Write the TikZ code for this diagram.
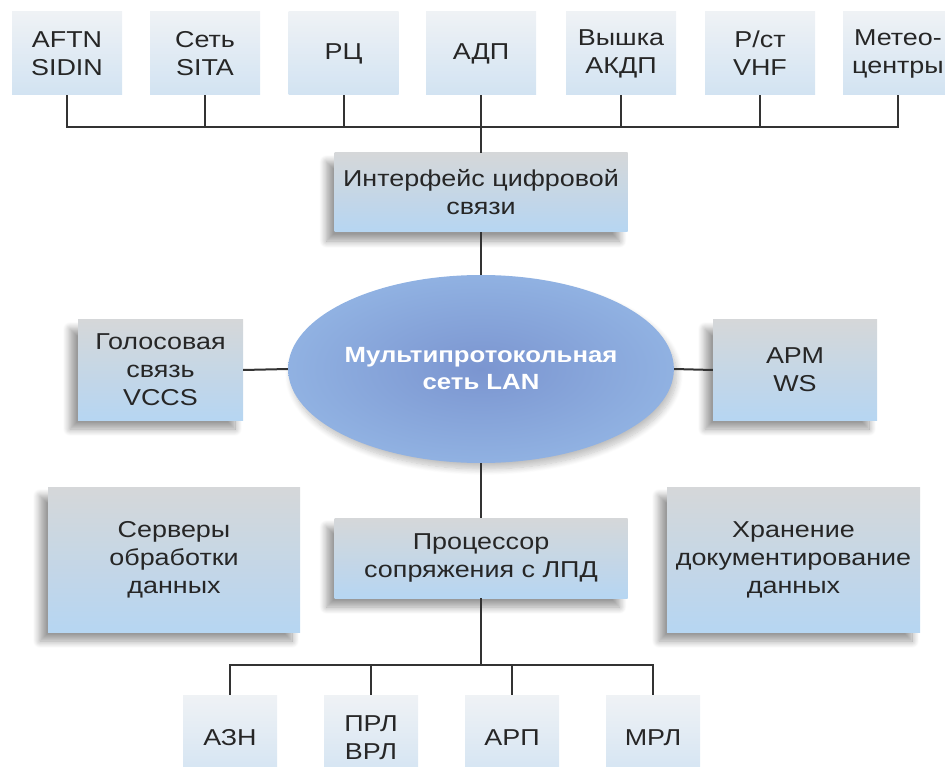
\documentclass[tikz,border=0pt]{standalone}
\usepackage{fontspec}
\setmainfont{Liberation Sans}[FakeStretch=1.17]
\usetikzlibrary{shapes.geometric,shadows.blur}

\definecolor{lineC}{HTML}{333333}
\definecolor{txtC}{HTML}{262626}
\definecolor{boxTop}{HTML}{D5D7D9}
\definecolor{boxBot}{HTML}{B6D6F2}
\definecolor{lightTop}{HTML}{EFF2F5}
\definecolor{lightBot}{HTML}{D2E3F2}
\definecolor{lanIn}{HTML}{7B95D0}
\definecolor{lanMid}{HTML}{93B5E4}
\definecolor{lanOut}{HTML}{A9CEF0}

\pgfdeclareradialshading{lanshade}{\pgfpointorigin}{%
  color(0bp)=(lanIn); color(28bp)=(lanMid); color(50bp)=(lanOut)}

\tikzset{
  boxbase/.style={rectangle, align=center, inner sep=0pt, text=txtC,
    font=\fontsize{23}{28}\selectfont},
  lightbox/.style={boxbase, top color=lightTop, bottom color=lightBot},
  shadebox/.style={boxbase, top color=boxTop, bottom color=boxBot,
    blur shadow={shadow xshift=-8pt, shadow yshift=-9pt,
      shadow blur radius=7pt, shadow blur steps=12, shadow opacity=40}},
  link/.style={draw=lineC, line width=2pt},
}

\begin{document}
\begin{tikzpicture}[x=1pt, y=-1pt]
\useasboundingbox (0,0) rectangle (945,767);

% top row of external systems
\begin{scope}[every node/.style={lightbox, minimum width=110pt, minimum height=83pt}]
  \node (t1) at (67,53.5)  {AFTN\\SIDIN};
  \node (t2) at (205,53.5) {Сеть\\SITA};
  \node (t3) at (343.5,53.5) {РЦ};
  \node (t4) at (481,53.5) {АДП};
  \node (t5) at (621,53.5) {Вышка\\АКДП};
  \node (t6) at (760,53.5) {Р/ст\\VHF};
  \node (t7) at (898,53.5) {Метео-\\центры};
\end{scope}

% digital communication interface
\node[shadebox, minimum width=293pt, minimum height=79pt] (iface) at (481,192.5)
  {Интерфейс цифровой\\связи};

% central network
\node[ellipse, minimum width=374pt, minimum height=188pt, inner sep=0pt,
  shading=lanshade, text=white,
  blur shadow={shadow xshift=3pt, shadow yshift=-6pt, shadow blur radius=6pt,
    shadow blur steps=10, shadow opacity=25},
  font=\bfseries\fontsize{22}{27}\selectfont, align=center] (lan) at (481,369)
  {Мультипротокольная\\сеть LAN};

% side units
\node[shadebox, minimum width=165pt, minimum height=100pt] (voice) at (160.5,370)
  {Голосовая\\связь\\VCCS};
\node[shadebox, minimum width=164pt, minimum height=100pt] (arm) at (795,370)
  {АРМ\\WS};
\node[shadebox, minimum width=252pt, minimum height=145pt] (srv) at (174,559.5)
  {Серверы\\обработки\\данных};
\node[shadebox, minimum width=253pt, minimum height=145pt] (store) at (793.5,559.5)
  {Хранение\\документирование\\данных};
\node[shadebox, minimum width=293pt, minimum height=80pt] (proc) at (481,558)
  {Процессор\\сопряжения с ЛПД};

% radar / navigation sources
\begin{scope}[every node/.style={lightbox, minimum width=94pt, minimum height=86pt}]
  \node (b1) at (230,738) {АЗН};
  \node (b2) at (371,738) {ПРЛ\\ВРЛ};
  \node (b3) at (512,738) {АРП};
  \node (b4) at (653,738) {МРЛ};
\end{scope}

% bus coordinates
\coordinate (topbus) at (0,127);
\coordinate (botbus) at (0,665);

% top bus
\foreach \n in {t1,t2,t3,t4,t5,t6,t7}
  \draw[link] (\n.south) -- (\n.south |- topbus);
\draw[link, line cap=rect] (t1.south |- topbus) -- (t7.south |- topbus);
\draw[link] (t4.south |- topbus) -- (iface.north);

% network links
\draw[link] (iface.south) -- (lan.north);
\draw[link] (voice.east) -- (lan.west);
\draw[link] (lan.east) -- (arm.west);
\draw[link] (lan.south) -- (proc.north);

% bottom bus
\draw[link] (proc.south) -- (proc.south |- botbus);
\foreach \n in {b1,b2,b3,b4}
  \draw[link] (\n.north) -- (\n.north |- botbus);
\draw[link, line cap=rect] (b1.north |- botbus) -- (b4.north |- botbus);
\end{tikzpicture}
\end{document}
